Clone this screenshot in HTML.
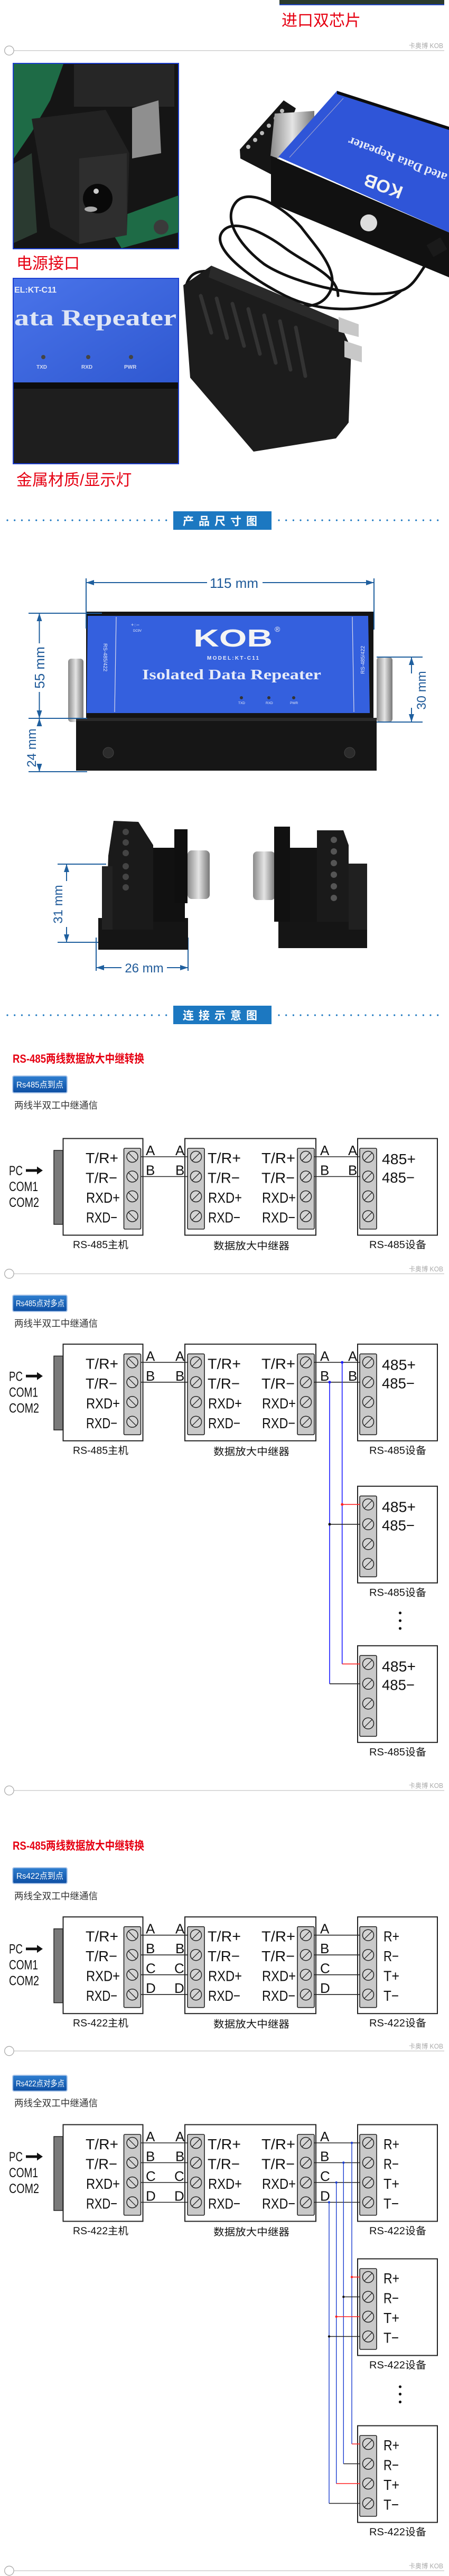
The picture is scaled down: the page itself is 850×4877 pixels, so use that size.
<!DOCTYPE html>
<html><head><meta charset="utf-8">
<style>
html,body{margin:0;padding:0;background:#fff;}
body{width:850px;height:4877px;overflow:hidden;}
svg{display:block;}
text{font-family:"Liberation Sans","Noto Sans CJK SC",sans-serif;}
.d{fill:#111;}
.L{font-size:28px;fill:#111;}
.ab{font-size:26px;fill:#111;}
.cap{font-size:19px;fill:#111;}
.pc{font-size:25px;fill:#111;}
.k{font-size:12.5px;fill:#aaa;}
.dim{font-size:26px;fill:#1f5a99;}
.sub{font-size:18px;fill:#333;}
.red{font-size:22px;fill:#e60012;font-weight:bold;}
.bd{font-size:16px;fill:#fff;}
.bn{font-size:21px;fill:#fff;font-weight:bold;letter-spacing:9px;}
</style></head><body>
<svg width="850" height="4877" viewBox="0 0 850 4877" xmlns="http://www.w3.org/2000/svg">
<defs>
<g id="sF"><rect x="-16" y="19" width="32" height="153" rx="2" fill="#c9c9c9" stroke="#222" stroke-width="1.6"/>
<g fill="#d4d4d4" stroke="#222" stroke-width="1.5"><circle cx="0" cy="35" r="10.5"/><circle cx="0" cy="72.5" r="10.5"/><circle cx="0" cy="110" r="10.5"/><circle cx="0" cy="147.5" r="10.5"/></g>
<g stroke="#222" stroke-width="1.3"><path d="M-7 42l14-14M-7 79.5l14-14M-7 117l14-14M-7 154.5l14-14"/></g></g>
<g id="sB"><rect x="-16" y="19" width="32" height="153" rx="2" fill="#c9c9c9" stroke="#222" stroke-width="1.6"/>
<g fill="#d4d4d4" stroke="#222" stroke-width="1.5"><circle cx="0" cy="35" r="10.5"/><circle cx="0" cy="72.5" r="10.5"/><circle cx="0" cy="110" r="10.5"/><circle cx="0" cy="147.5" r="10.5"/></g>
<g stroke="#222" stroke-width="1.3"><path d="M-7 28l14 14M-7 65.5l14 14M-7 103l14 14M-7 140.5l14 14"/></g></g>
<g id="hostShapes"><rect x="102" y="23" width="17" height="140" fill="#7a7a7a" stroke="#222" stroke-width="1.5"/>
<rect x="119.5" y="0.5" width="151" height="183" fill="#fff" stroke="#222" stroke-width="2"/>
<rect x="350" y="0.5" width="248" height="183" fill="#fff" stroke="#222" stroke-width="2"/>
<rect x="677" y="0.5" width="151" height="183" fill="#fff" stroke="#222" stroke-width="2"/>
<use href="#sB" x="250.5"/><use href="#sF" x="371"/><use href="#sF" x="579"/><use href="#sF" x="697"/>
<path d="M49 58.5h21v-5l11 7.5-11 7.5v-5h-21z" fill="#111"/></g>
<g id="devShape"><rect x="677" y="0.5" width="151" height="183" fill="#fff" stroke="#222" stroke-width="2"/><use href="#sF" x="697"/></g>
<linearGradient id="bg1" x1="0" y1="0" x2="0" y2="1"><stop offset="0" stop-color="#2f7fd0"/><stop offset="1" stop-color="#0d4ea3"/></linearGradient>
<linearGradient id="met" x1="0" y1="0" x2="1" y2="0"><stop offset="0" stop-color="#8a8a8a"/><stop offset=".5" stop-color="#e4e4e4"/><stop offset="1" stop-color="#777"/></linearGradient>
<linearGradient id="blu" x1="0" y1="0" x2="1" y2="1"><stop offset="0" stop-color="#4a74ea"/><stop offset="1" stop-color="#2f58d0"/></linearGradient>
</defs>

<!-- top partial photo -->
<rect x="529" y="0" width="312" height="9" fill="#2b3b2e"/><rect x="529" y="8" width="312" height="2" fill="#2448c8"/>
<text x="533" y="49" style="font-size:30px;fill:#e60012">进口双芯片</text>

<!-- separator -->
<g id="sep1"><line x1="26" y1="95.7" x2="841" y2="95.7" stroke="#cfcfcf" stroke-width="1.5"/><circle cx="17.4" cy="95.7" r="8.7" fill="#fff" stroke="#aaa" stroke-width="1.3"/><text x="774" y="91" class="k" textLength="65" lengthAdjust="spacingAndGlyphs">卡奥博 KOB</text></g>

<!-- photo 1 -->
<rect x="25" y="120" width="313" height="351" fill="#151515" stroke="#1d3fd0" stroke-width="2"/>
<polygon points="26,121 120,121 95,190 60,250 26,300" fill="#1e6b46"/>
<polygon points="200,420 338,370 338,440 230,470" fill="#1e6b46"/>
<polygon points="26,310 60,290 70,440 26,460" fill="#2a3a30"/>
<rect x="140" y="122" width="190" height="80" fill="#262626"/>
<polygon points="250,205 300,190 305,290 250,300" fill="#8f8f8f"/>
<polygon points="60,225 200,208 245,290 240,445 150,462 95,430" fill="#222"/>
<polygon points="150,300 240,290 240,445 150,462" fill="#2e2e2e"/>
<circle cx="185" cy="376" r="28" fill="#090909"/><circle cx="182" cy="362" r="5" fill="#ccc"/><ellipse cx="172" cy="396" rx="12" ry="5" fill="#aaa"/>
<circle cx="305" cy="430" r="14" fill="#3a3a3a"/>
<text x="31" y="509" style="font-size:30px;fill:#e60012">电源接口</text>

<!-- photo 2 -->
<rect x="25" y="527" width="313" height="351" fill="#1b1b1b" stroke="#1d3fd0" stroke-width="2"/>
<rect x="26" y="528" width="311" height="196" fill="url(#blu)"/>
<rect x="26" y="724" width="311" height="12" fill="#0d0d0d"/>
<rect x="26" y="736" width="311" height="141" fill="#1e1e1e"/>
<text x="27" y="554" style="font-size:16px;font-weight:bold;fill:#e8ecf8">EL:KT-C11</text>
<text x="27" y="616" style="font-family:'Liberation Serif',serif;font-size:43px;font-weight:bold;fill:#dfe6f5" textLength="307" lengthAdjust="spacingAndGlyphs">ata Repeater</text>
<g fill="#444"><circle cx="82" cy="676" r="4"/><circle cx="167" cy="676" r="4"/><circle cx="248" cy="676" r="4"/></g>
<g style="font-size:10px;font-weight:bold;fill:#d6dcf2"><text x="69" y="698">TXD</text><text x="154" y="698">RXD</text><text x="235" y="698">PWR</text></g>
<text x="31" y="919" style="font-size:30px;fill:#e60012">金属材质/显示灯</text>

<!-- right photo: device + adapter -->
<polygon points="454,283 537,190 560,205 513,330 455,300" fill="#151515"/>
<g fill="#bbb"><circle cx="470" cy="278" r="4"/><circle cx="483" cy="265" r="4"/><circle cx="496" cy="252" r="4"/><circle cx="509" cy="238" r="4"/><circle cx="522" cy="224" r="4"/><circle cx="534" cy="210" r="4"/></g>
<polygon points="520,215 595,210 595,233 527,300 512,295" fill="url(#met)"/>
<polygon points="513,295 850,440 850,525 513,385" fill="#111"/>
<polygon points="638,172 850,245 850,440 527,297" fill="#2f55d8"/>
<line x1="650" y1="186" x2="548" y2="298" stroke="#aac" stroke-width="1"/>
<polygon points="638,172 850,240 850,246 638,178" fill="#0d0d0d"/>
<text transform="translate(765,355) rotate(201)" style="font-size:34px;font-weight:bold;fill:#f2f2f2">KOB</text>
<text transform="translate(848,330) rotate(201)" style="font-family:'Liberation Serif',serif;font-size:24px;font-weight:bold;fill:#e5e9f8">ated Data Repeater</text>
<circle cx="698" cy="422" r="16" fill="#ddd"/>
<!-- cable -->
<g fill="none" stroke="#111" stroke-width="5" stroke-linecap="round">
<path d="M830 470C800 500 790 540 760 550C700 570 560 540 500 500C460 470 420 420 445 385C470 350 540 395 570 430C600 470 650 520 620 560C590 600 520 570 480 540"/>
<path d="M760 550C700 600 600 590 540 560C470 525 400 470 420 440C440 410 500 440 540 470C580 500 640 520 640 560"/>
<path d="M480 540C430 520 380 500 360 525C345 545 355 560 370 570"/>
</g>
<rect x="812" y="455" width="30" height="26" fill="#1a1a1a" transform="rotate(-30 827 468)"/>
<polygon points="347,540 400,503 640,605 665,660 660,800 636,830 480,855 360,715" fill="#1c1c1c"/>
<polygon points="400,503 640,605 640,625 395,525" fill="#2a2a2a"/>
<g stroke="#333" stroke-width="7" stroke-linecap="round"><path d="M380 560l20 70M410 565l20 75M440 575l22 80M470 585l22 85M500 597l22 90M530 608l20 92M560 620l18 92"/></g>
<polygon points="641,600 679,614 679,638 641,628" fill="#c8c8c8"/>
<polygon points="652,645 685,656 685,686 652,676" fill="#c8c8c8"/>

<!-- banner 1 -->
<g fill="#1c78c1"><rect x="328" y="968" width="186" height="35"/></g>
<text x="421" y="994" class="bn" text-anchor="middle">产品尺寸图</text>
<g fill="#1c78c1" id="dots1">
<circle cx="14" cy="985" r="1.6"/><circle cx="27.7" cy="985" r="1.6"/><circle cx="41.4" cy="985" r="1.6"/><circle cx="55" cy="985" r="1.6"/><circle cx="68.7" cy="985" r="1.6"/><circle cx="82.4" cy="985" r="1.6"/><circle cx="96" cy="985" r="1.6"/><circle cx="109.7" cy="985" r="1.6"/><circle cx="123.4" cy="985" r="1.6"/><circle cx="137" cy="985" r="1.6"/><circle cx="150.7" cy="985" r="1.6"/><circle cx="164.4" cy="985" r="1.6"/><circle cx="178" cy="985" r="1.6"/><circle cx="191.7" cy="985" r="1.6"/><circle cx="205.4" cy="985" r="1.6"/><circle cx="219" cy="985" r="1.6"/><circle cx="232.7" cy="985" r="1.6"/><circle cx="246.4" cy="985" r="1.6"/><circle cx="260" cy="985" r="1.6"/><circle cx="273.7" cy="985" r="1.6"/><circle cx="287.4" cy="985" r="1.6"/><circle cx="301" cy="985" r="1.6"/><circle cx="314.7" cy="985" r="1.6"/>
<circle cx="528" cy="985" r="1.6"/><circle cx="541.7" cy="985" r="1.6"/><circle cx="555.4" cy="985" r="1.6"/><circle cx="569" cy="985" r="1.6"/><circle cx="582.7" cy="985" r="1.6"/><circle cx="596.4" cy="985" r="1.6"/><circle cx="610" cy="985" r="1.6"/><circle cx="623.7" cy="985" r="1.6"/><circle cx="637.4" cy="985" r="1.6"/><circle cx="651" cy="985" r="1.6"/><circle cx="664.7" cy="985" r="1.6"/><circle cx="678.4" cy="985" r="1.6"/><circle cx="692" cy="985" r="1.6"/><circle cx="705.7" cy="985" r="1.6"/><circle cx="719.4" cy="985" r="1.6"/><circle cx="733" cy="985" r="1.6"/><circle cx="746.7" cy="985" r="1.6"/><circle cx="760.4" cy="985" r="1.6"/><circle cx="774" cy="985" r="1.6"/><circle cx="787.7" cy="985" r="1.6"/><circle cx="801.4" cy="985" r="1.6"/><circle cx="815" cy="985" r="1.6"/><circle cx="828.7" cy="985" r="1.6"/>
</g>

<!-- dimension photo -->
<rect x="129" y="1247" width="29" height="120" rx="6" fill="url(#met)"/>
<rect x="713" y="1244" width="30" height="123" rx="6" fill="url(#met)"/>
<rect x="163" y="1158" width="544" height="202" fill="#141414"/>
<polygon points="166,1166 697,1166 700,1350 164,1350" fill="#3460de"/>
<line x1="220" y1="1168" x2="217" y2="1348" stroke="#dde" stroke-width="1.2"/>
<line x1="667" y1="1168" x2="670" y2="1348" stroke="#dde" stroke-width="1.2"/>
<rect x="144" y="1359" width="569" height="100" fill="#161616"/>
<rect x="144" y="1359" width="569" height="6" fill="#2a2a2a"/>
<circle cx="205" cy="1425" r="10" fill="#2c2c2c" stroke="#444"/><circle cx="662" cy="1425" r="10" fill="#2c2c2c" stroke="#444"/>
<text x="366" y="1224" style="font-size:46px;font-weight:bold;fill:#f4f4f4" textLength="150" lengthAdjust="spacingAndGlyphs">KOB</text>
<text x="520" y="1196" style="font-size:14px;fill:#f4f4f4">®</text>
<text x="392" y="1249" style="font-size:10px;font-weight:bold;fill:#e8ecf8" textLength="98">MODEL:KT-C11</text>
<text x="269" y="1286" style="font-family:'Liberation Serif',serif;font-size:27px;font-weight:bold;fill:#e6ebf8" textLength="339" lengthAdjust="spacingAndGlyphs">Isolated Data Repeater</text>
<text x="248" y="1186" style="font-size:9px;fill:#e6ebf8">+◌−</text><text x="252" y="1196" style="font-size:6px;fill:#e6ebf8">DC9V</text>
<g fill="#333"><circle cx="457" cy="1321" r="3"/><circle cx="509" cy="1321" r="3"/><circle cx="556" cy="1321" r="3"/></g>
<g style="font-size:6.5px;fill:#e6ebf8"><text x="451" y="1333">TXD</text><text x="503" y="1333">RXD</text><text x="549" y="1333">PWR</text></g>
<text transform="translate(196,1218) rotate(90)" style="font-size:10px;fill:#e6ebf8">RS-485/422</text>
<text transform="translate(690,1276) rotate(-90)" style="font-size:10px;fill:#e6ebf8">RS-485/422</text>

<g stroke="#1f5f9e" stroke-width="2" fill="none">
<path d="M163 1103H392M497 1103H708M163 1095V1190M708 1095V1192"/>
<path d="M54 1161H193M54 1360H165M54 1461H165M74.5 1161V1218M74.5 1310V1360M74.5 1360V1373M74.5 1455V1461"/>
<path d="M713 1244H800M713 1367H800M779 1244V1275M779 1340V1367"/>
<path d="M109 1636H201M109 1784H190M126 1636V1668M126 1755V1784"/>
<path d="M182 1775V1838M356 1775V1838M182 1832H230M316 1832H356"/>
</g>
<g fill="#1f5f9e">
<path d="M163 1103l15-5v10z"/><path d="M708 1103l-15-5v10z"/>
<path d="M74.5 1161l-5 15h10z"/><path d="M74.5 1360l-5-15h10z"/><path d="M74.5 1360l-5 15h10z"/><path d="M74.5 1461l-5-15h10z"/>
<path d="M779 1244l-5 15h10z"/><path d="M779 1367l-5-15h10z"/>
<path d="M126 1636l-5 15h10z"/><path d="M126 1784l-5-15h10z"/>
<path d="M182 1832l15-5v10z"/><path d="M356 1832l-15-5v10z"/>
</g>
<text x="443" y="1113" class="dim" text-anchor="middle">115 mm</text>
<text transform="translate(84,1264) rotate(-90)" class="dim" text-anchor="middle">55 mm</text>
<text transform="translate(68,1416) rotate(-90)" class="dim" text-anchor="middle" style="font-size:24px">24 mm</text>
<text transform="translate(806,1307) rotate(-90)" class="dim" text-anchor="middle" style="font-size:24px">30 mm</text>
<text transform="translate(118,1712) rotate(-90)" class="dim" text-anchor="middle" style="font-size:24px">31 mm</text>
<text x="273" y="1841" class="dim" text-anchor="middle" style="font-size:24px">26 mm</text>

<!-- connectors -->
<rect x="186" y="1738" width="170" height="60" fill="#151515"/>
<polygon points="215,1554 262,1556 290,1600 290,1760 200,1760 205,1620" fill="#1a1a1a"/>
<g fill="#444"><circle cx="238" cy="1575" r="6"/><circle cx="238" cy="1595" r="6"/><circle cx="238" cy="1615" r="6"/><circle cx="238" cy="1640" r="6"/><circle cx="238" cy="1660" r="6"/><circle cx="238" cy="1680" r="6"/></g>
<rect x="193" y="1640" width="20" height="120" fill="#222"/>
<rect x="290" y="1605" width="60" height="140" fill="#111"/>
<rect x="330" y="1570" width="25" height="140" fill="#0f0f0f"/>
<rect x="355" y="1610" width="42" height="92" rx="8" fill="url(#met)"/>
<rect x="527" y="1738" width="168" height="57" fill="#151515"/>
<rect x="479" y="1612" width="42" height="92" rx="8" fill="url(#met)"/>
<rect x="519" y="1565" width="30" height="180" fill="#111"/>
<rect x="549" y="1605" width="55" height="140" fill="#141414"/>
<polygon points="600,1572 650,1572 660,1600 660,1745 600,1745" fill="#1a1a1a"/>
<g fill="#555"><circle cx="632" cy="1590" r="6"/><circle cx="632" cy="1612" r="6"/><circle cx="632" cy="1634" r="6"/><circle cx="632" cy="1656" r="6"/><circle cx="632" cy="1678" r="6"/><circle cx="632" cy="1700" r="6"/></g>
<rect x="660" y="1635" width="35" height="125" fill="#202020"/>

<!-- banner 2 -->
<rect x="328" y="1904" width="186" height="35" fill="#1c78c1"/>
<text x="421" y="1930" class="bn" text-anchor="middle">连接示意图</text>
<use href="#dots1" y="937"/>

<text x="24" y="2012" class="red" textLength="249" lengthAdjust="spacingAndGlyphs">RS-485两线数据放大中继转换</text>
<rect x="24" y="2037" width="103" height="32" rx="3" fill="url(#bg1)" stroke="#a9c4e8" stroke-width="2"/>
<text x="31" y="2059" class="bd" textLength="89" lengthAdjust="spacingAndGlyphs">Rs485点到点</text>
<text x="27" y="2099" class="sub" textLength="158" lengthAdjust="spacingAndGlyphs">两线半双工中继通信</text>

<!-- diagram 1 -->
<g transform="translate(0,2155)">
<use href="#hostShapes"/>
<g stroke="#222" stroke-width="1.6"><path d="M266 35H356M266 72.5H356M594 35H682M594 72.5H682"/></g>
<text x="17" y="70" class="pc" textLength="26" lengthAdjust="spacingAndGlyphs">PC</text>
<text x="17" y="100" class="pc" textLength="55" lengthAdjust="spacingAndGlyphs">COM1</text>
<text x="17" y="130" class="pc" textLength="57" lengthAdjust="spacingAndGlyphs">COM2</text>
<text x="162" y="47" class="L" textLength="62" lengthAdjust="spacingAndGlyphs">T/R+</text>
<text x="162" y="84.5" class="L" textLength="60" lengthAdjust="spacingAndGlyphs">T/R−</text>
<text x="163" y="122" class="L" textLength="64" lengthAdjust="spacingAndGlyphs">RXD+</text>
<text x="163" y="159.5" class="L" textLength="59" lengthAdjust="spacingAndGlyphs">RXD−</text>
<text x="393" y="47" class="L" textLength="63" lengthAdjust="spacingAndGlyphs">T/R+</text>
<text x="393" y="84.5" class="L" textLength="61" lengthAdjust="spacingAndGlyphs">T/R−</text>
<text x="394" y="122" class="L" textLength="64" lengthAdjust="spacingAndGlyphs">RXD+</text>
<text x="394" y="159.5" class="L" textLength="61" lengthAdjust="spacingAndGlyphs">RXD−</text>
<text x="495" y="47" class="L" textLength="64" lengthAdjust="spacingAndGlyphs">T/R+</text>
<text x="495" y="84.5" class="L" textLength="63" lengthAdjust="spacingAndGlyphs">T/R−</text>
<text x="496" y="122" class="L" textLength="64" lengthAdjust="spacingAndGlyphs">RXD+</text>
<text x="496" y="159.5" class="L" textLength="63" lengthAdjust="spacingAndGlyphs">RXD−</text>
<text x="723" y="49" class="L" textLength="64" lengthAdjust="spacingAndGlyphs">485+</text>
<text x="723" y="84" class="L" textLength="62" lengthAdjust="spacingAndGlyphs">485−</text>
<text x="276" y="32" class="ab">A</text><text x="332" y="32" class="ab">A</text><text x="606" y="32" class="ab">A</text><text x="659" y="32" class="ab">A</text>
<text x="276" y="69.5" class="ab">B</text><text x="332" y="69.5" class="ab">B</text><text x="606" y="69.5" class="ab">B</text><text x="659" y="69.5" class="ab">B</text>
<text x="138" y="208" class="cap" textLength="105" lengthAdjust="spacingAndGlyphs">RS-485主机</text>
<text x="404" y="210" class="cap" textLength="144" lengthAdjust="spacingAndGlyphs">数据放大中继器</text>
<text x="699" y="208" class="cap" textLength="108" lengthAdjust="spacingAndGlyphs">RS-485设备</text>
</g>

<use href="#sep1" y="2315.8"/>

<rect x="24" y="2452" width="103" height="31" rx="3" fill="url(#bg1)" stroke="#a9c4e8" stroke-width="2"/>
<text x="30" y="2473" class="bd" textLength="92" lengthAdjust="spacingAndGlyphs">Rs485点对多点</text>
<text x="27" y="2512" class="sub" textLength="158" lengthAdjust="spacingAndGlyphs">两线半双工中继通信</text>

<!-- diagram 2 -->
<g transform="translate(0,2544.3)">
<use href="#hostShapes"/>
<g stroke="#222" stroke-width="1.6"><path d="M266 35H356M266 72.5H356M594 35H682M594 72.5H682"/></g>
<text x="17" y="70" class="pc" textLength="26" lengthAdjust="spacingAndGlyphs">PC</text>
<text x="17" y="100" class="pc" textLength="55" lengthAdjust="spacingAndGlyphs">COM1</text>
<text x="17" y="130" class="pc" textLength="57" lengthAdjust="spacingAndGlyphs">COM2</text>
<text x="162" y="47" class="L" textLength="62" lengthAdjust="spacingAndGlyphs">T/R+</text>
<text x="162" y="84.5" class="L" textLength="60" lengthAdjust="spacingAndGlyphs">T/R−</text>
<text x="163" y="122" class="L" textLength="64" lengthAdjust="spacingAndGlyphs">RXD+</text>
<text x="163" y="159.5" class="L" textLength="59" lengthAdjust="spacingAndGlyphs">RXD−</text>
<text x="393" y="47" class="L" textLength="63" lengthAdjust="spacingAndGlyphs">T/R+</text>
<text x="393" y="84.5" class="L" textLength="61" lengthAdjust="spacingAndGlyphs">T/R−</text>
<text x="394" y="122" class="L" textLength="64" lengthAdjust="spacingAndGlyphs">RXD+</text>
<text x="394" y="159.5" class="L" textLength="61" lengthAdjust="spacingAndGlyphs">RXD−</text>
<text x="495" y="47" class="L" textLength="64" lengthAdjust="spacingAndGlyphs">T/R+</text>
<text x="495" y="84.5" class="L" textLength="63" lengthAdjust="spacingAndGlyphs">T/R−</text>
<text x="496" y="122" class="L" textLength="64" lengthAdjust="spacingAndGlyphs">RXD+</text>
<text x="496" y="159.5" class="L" textLength="63" lengthAdjust="spacingAndGlyphs">RXD−</text>
<text x="723" y="49" class="L" textLength="64" lengthAdjust="spacingAndGlyphs">485+</text>
<text x="723" y="84" class="L" textLength="62" lengthAdjust="spacingAndGlyphs">485−</text>
<text x="276" y="32" class="ab">A</text><text x="332" y="32" class="ab">A</text><text x="606" y="32" class="ab">A</text><text x="659" y="32" class="ab">A</text>
<text x="276" y="69.5" class="ab">B</text><text x="332" y="69.5" class="ab">B</text><text x="606" y="69.5" class="ab">B</text><text x="659" y="69.5" class="ab">B</text>
<text x="138" y="208" class="cap" textLength="105" lengthAdjust="spacingAndGlyphs">RS-485主机</text>
<text x="404" y="210" class="cap" textLength="144" lengthAdjust="spacingAndGlyphs">数据放大中继器</text>
<text x="699" y="208" class="cap" textLength="108" lengthAdjust="spacingAndGlyphs">RS-485设备</text>
<!-- extra devices -->
<use href="#devShape" y="269"/>
<use href="#devShape" y="571"/>
<g stroke="#1a1aff" stroke-width="1.6"><path d="M647.7 35V606M624 72.5V643.5"/></g>
<g stroke="#ff2020" stroke-width="1.6"><path d="M647.7 304H682M647.7 606H682"/></g>
<g stroke="#222" stroke-width="1.6"><path d="M624 341.5H682M624 643.5H682"/></g>
<circle cx="647.7" cy="35" r="2.5" fill="#1a1aff"/><circle cx="624" cy="72.5" r="2.5" fill="#1a1aff"/>
<circle cx="647.7" cy="304" r="2.5" fill="#ff2020"/><circle cx="624" cy="341.5" r="2.5" fill="#111"/>
<text x="723" y="318" class="L" textLength="64" lengthAdjust="spacingAndGlyphs">485+</text>
<text x="723" y="353" class="L" textLength="62" lengthAdjust="spacingAndGlyphs">485−</text>
<text x="699" y="477" class="cap" textLength="108" lengthAdjust="spacingAndGlyphs">RS-485设备</text>
<g fill="#111"><circle cx="757.5" cy="509.4" r="2.6"/><circle cx="757.5" cy="524" r="2.6"/><circle cx="757.5" cy="538.7" r="2.6"/></g>
<text x="723" y="620" class="L" textLength="64" lengthAdjust="spacingAndGlyphs">485+</text>
<text x="723" y="655" class="L" textLength="62" lengthAdjust="spacingAndGlyphs">485−</text>
<text x="699" y="779" class="cap" textLength="108" lengthAdjust="spacingAndGlyphs">RS-485设备</text>
</g>

<use href="#sep1" y="3294.1"/>

<text x="24" y="3502" class="red" textLength="249" lengthAdjust="spacingAndGlyphs">RS-485两线数据放大中继转换</text>
<rect x="24" y="3536" width="103" height="30" rx="3" fill="url(#bg1)" stroke="#a9c4e8" stroke-width="2"/>
<text x="31" y="3557" class="bd" textLength="89" lengthAdjust="spacingAndGlyphs">Rs422点到点</text>
<text x="27" y="3596" class="sub" textLength="158" lengthAdjust="spacingAndGlyphs">两线全双工中继通信</text>

<!-- diagram 3 -->
<g transform="translate(0,3628.7)">
<use href="#hostShapes"/>
<g stroke="#222" stroke-width="1.6"><path d="M266 35H356M266 72.5H356M266 110H356M266 147.5H356M594 35H682M594 72.5H682M594 110H682M594 147.5H682"/></g>
<text x="17" y="70" class="pc" textLength="26" lengthAdjust="spacingAndGlyphs">PC</text>
<text x="17" y="100" class="pc" textLength="55" lengthAdjust="spacingAndGlyphs">COM1</text>
<text x="17" y="130" class="pc" textLength="57" lengthAdjust="spacingAndGlyphs">COM2</text>
<text x="162" y="47" class="L" textLength="62" lengthAdjust="spacingAndGlyphs">T/R+</text>
<text x="162" y="84.5" class="L" textLength="60" lengthAdjust="spacingAndGlyphs">T/R−</text>
<text x="163" y="122" class="L" textLength="64" lengthAdjust="spacingAndGlyphs">RXD+</text>
<text x="163" y="159.5" class="L" textLength="59" lengthAdjust="spacingAndGlyphs">RXD−</text>
<text x="393" y="47" class="L" textLength="63" lengthAdjust="spacingAndGlyphs">T/R+</text>
<text x="393" y="84.5" class="L" textLength="61" lengthAdjust="spacingAndGlyphs">T/R−</text>
<text x="394" y="122" class="L" textLength="64" lengthAdjust="spacingAndGlyphs">RXD+</text>
<text x="394" y="159.5" class="L" textLength="61" lengthAdjust="spacingAndGlyphs">RXD−</text>
<text x="495" y="47" class="L" textLength="64" lengthAdjust="spacingAndGlyphs">T/R+</text>
<text x="495" y="84.5" class="L" textLength="63" lengthAdjust="spacingAndGlyphs">T/R−</text>
<text x="496" y="122" class="L" textLength="64" lengthAdjust="spacingAndGlyphs">RXD+</text>
<text x="496" y="159.5" class="L" textLength="63" lengthAdjust="spacingAndGlyphs">RXD−</text>
<text x="726" y="47" class="L" textLength="30" lengthAdjust="spacingAndGlyphs">R+</text>
<text x="726" y="84.5" class="L" textLength="29" lengthAdjust="spacingAndGlyphs">R−</text>
<text x="726" y="122" class="L" textLength="30" lengthAdjust="spacingAndGlyphs">T+</text>
<text x="726" y="159.5" class="L" textLength="29" lengthAdjust="spacingAndGlyphs">T−</text>
<text x="276" y="32" class="ab">A</text><text x="332" y="32" class="ab">A</text><text x="606" y="32" class="ab">A</text>
<text x="276" y="69.5" class="ab">B</text><text x="332" y="69.5" class="ab">B</text><text x="606" y="69.5" class="ab">B</text>
<text x="276" y="107" class="ab">C</text><text x="330" y="107" class="ab">C</text><text x="606" y="107" class="ab">C</text>
<text x="276" y="144.5" class="ab">D</text><text x="330" y="144.5" class="ab">D</text><text x="606" y="144.5" class="ab">D</text>
<text x="138" y="208" class="cap" textLength="105" lengthAdjust="spacingAndGlyphs">RS-422主机</text>
<text x="404" y="210" class="cap" textLength="144" lengthAdjust="spacingAndGlyphs">数据放大中继器</text>
<text x="699" y="208" class="cap" textLength="108" lengthAdjust="spacingAndGlyphs">RS-422设备</text>
</g>

<use href="#sep1" y="3787.3"/>

<rect x="24" y="3929" width="103" height="30" rx="3" fill="url(#bg1)" stroke="#a9c4e8" stroke-width="2"/>
<text x="30" y="3950" class="bd" textLength="92" lengthAdjust="spacingAndGlyphs">Rs422点对多点</text>
<text x="27" y="3988" class="sub" textLength="158" lengthAdjust="spacingAndGlyphs">两线全双工中继通信</text>

<!-- diagram 4 -->
<g transform="translate(0,4022)">
<use href="#hostShapes"/>
<g stroke="#222" stroke-width="1.6"><path d="M266 35H356M266 72.5H356M266 110H356M266 147.5H356M594 35H682M594 72.5H682M594 110H682M594 147.5H682"/></g>
<text x="17" y="70" class="pc" textLength="26" lengthAdjust="spacingAndGlyphs">PC</text>
<text x="17" y="100" class="pc" textLength="55" lengthAdjust="spacingAndGlyphs">COM1</text>
<text x="17" y="130" class="pc" textLength="57" lengthAdjust="spacingAndGlyphs">COM2</text>
<text x="162" y="47" class="L" textLength="62" lengthAdjust="spacingAndGlyphs">T/R+</text>
<text x="162" y="84.5" class="L" textLength="60" lengthAdjust="spacingAndGlyphs">T/R−</text>
<text x="163" y="122" class="L" textLength="64" lengthAdjust="spacingAndGlyphs">RXD+</text>
<text x="163" y="159.5" class="L" textLength="59" lengthAdjust="spacingAndGlyphs">RXD−</text>
<text x="393" y="47" class="L" textLength="63" lengthAdjust="spacingAndGlyphs">T/R+</text>
<text x="393" y="84.5" class="L" textLength="61" lengthAdjust="spacingAndGlyphs">T/R−</text>
<text x="394" y="122" class="L" textLength="64" lengthAdjust="spacingAndGlyphs">RXD+</text>
<text x="394" y="159.5" class="L" textLength="61" lengthAdjust="spacingAndGlyphs">RXD−</text>
<text x="495" y="47" class="L" textLength="64" lengthAdjust="spacingAndGlyphs">T/R+</text>
<text x="495" y="84.5" class="L" textLength="63" lengthAdjust="spacingAndGlyphs">T/R−</text>
<text x="496" y="122" class="L" textLength="64" lengthAdjust="spacingAndGlyphs">RXD+</text>
<text x="496" y="159.5" class="L" textLength="63" lengthAdjust="spacingAndGlyphs">RXD−</text>
<text x="726" y="47" class="L" textLength="30" lengthAdjust="spacingAndGlyphs">R+</text>
<text x="726" y="84.5" class="L" textLength="29" lengthAdjust="spacingAndGlyphs">R−</text>
<text x="726" y="122" class="L" textLength="30" lengthAdjust="spacingAndGlyphs">T+</text>
<text x="726" y="159.5" class="L" textLength="29" lengthAdjust="spacingAndGlyphs">T−</text>
<text x="276" y="32" class="ab">A</text><text x="332" y="32" class="ab">A</text><text x="606" y="32" class="ab">A</text>
<text x="276" y="69.5" class="ab">B</text><text x="332" y="69.5" class="ab">B</text><text x="606" y="69.5" class="ab">B</text>
<text x="276" y="107" class="ab">C</text><text x="330" y="107" class="ab">C</text><text x="606" y="107" class="ab">C</text>
<text x="276" y="144.5" class="ab">D</text><text x="330" y="144.5" class="ab">D</text><text x="606" y="144.5" class="ab">D</text>
<text x="138" y="208" class="cap" textLength="105" lengthAdjust="spacingAndGlyphs">RS-422主机</text>
<text x="404" y="210" class="cap" textLength="144" lengthAdjust="spacingAndGlyphs">数据放大中继器</text>
<text x="699" y="208" class="cap" textLength="108" lengthAdjust="spacingAndGlyphs">RS-422设备</text>
<use href="#devShape" y="254"/>
<use href="#devShape" y="570"/>
<g stroke="#1a3cd0" stroke-width="1.4"><path d="M666 35V605M650.3 72.5V642.5M636.7 110V680M623 147.5V717.5"/></g>
<g stroke="#ff2020" stroke-width="1.6"><path d="M666 289H682M636.7 364H682M666 605H682M636.7 680H682"/></g>
<g stroke="#222" stroke-width="1.6"><path d="M650.3 326.5H682M623 401.5H682M650.3 642.5H682M623 717.5H682"/></g>
<g fill="#1a3cd0"><circle cx="666" cy="35" r="2.2"/><circle cx="650.3" cy="72.5" r="2.2"/><circle cx="636.7" cy="110" r="2.2"/><circle cx="623" cy="147.5" r="2.2"/></g>
<circle cx="666" cy="289" r="2.2" fill="#ff2020"/><circle cx="636.7" cy="364" r="2.2" fill="#ff2020"/>
<circle cx="650.3" cy="326.5" r="2.2" fill="#111"/><circle cx="623" cy="401.5" r="2.2" fill="#111"/>
<text x="726" y="301" class="L" textLength="30" lengthAdjust="spacingAndGlyphs">R+</text>
<text x="726" y="338.5" class="L" textLength="29" lengthAdjust="spacingAndGlyphs">R−</text>
<text x="726" y="376" class="L" textLength="30" lengthAdjust="spacingAndGlyphs">T+</text>
<text x="726" y="413.5" class="L" textLength="29" lengthAdjust="spacingAndGlyphs">T−</text>
<text x="699" y="462" class="cap" textLength="108" lengthAdjust="spacingAndGlyphs">RS-422设备</text>
<g fill="#111"><circle cx="757.5" cy="496.7" r="2.6"/><circle cx="757.5" cy="510.6" r="2.6"/><circle cx="757.5" cy="525.5" r="2.6"/></g>
<text x="726" y="617" class="L" textLength="30" lengthAdjust="spacingAndGlyphs">R+</text>
<text x="726" y="654.5" class="L" textLength="29" lengthAdjust="spacingAndGlyphs">R−</text>
<text x="726" y="692" class="L" textLength="30" lengthAdjust="spacingAndGlyphs">T+</text>
<text x="726" y="729.5" class="L" textLength="29" lengthAdjust="spacingAndGlyphs">T−</text>
<text x="699" y="778" class="cap" textLength="108" lengthAdjust="spacingAndGlyphs">RS-422设备</text>
</g>

<use href="#sep1" y="4771.3"/>
</svg>
</body></html>
